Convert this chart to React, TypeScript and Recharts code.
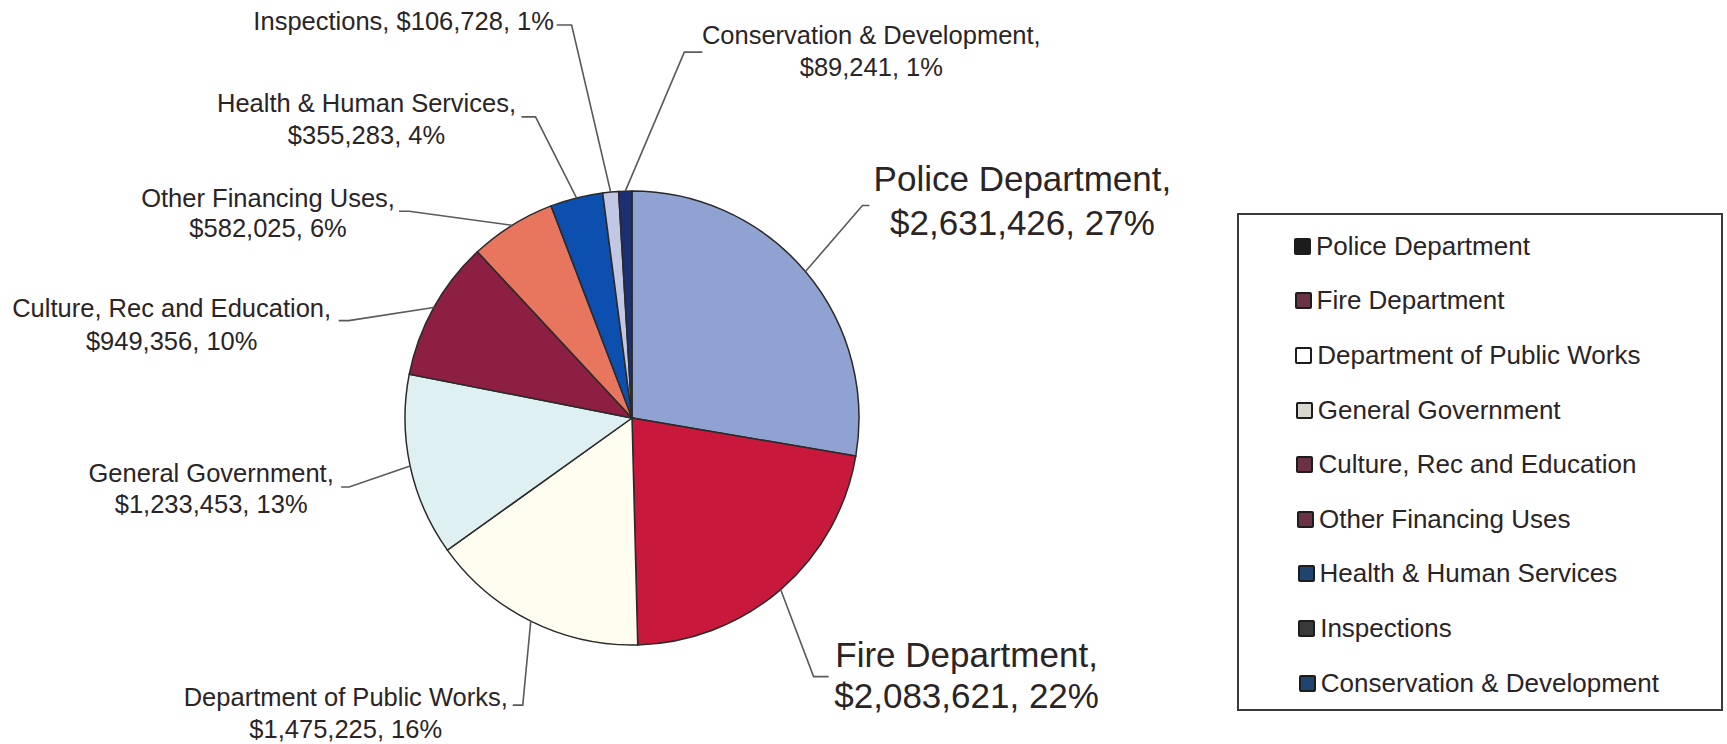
import { PieChart, Pie, Cell, Legend } from 'recharts'

const departments = [
  'Police Department',
  'Fire Department',
  'Department of Public Works',
  'General Government',
  'Culture, Rec and Education',
  'Other Financing Uses',
  'Health & Human Services',
  'Inspections',
  'Conservation & Development',
]
const budgets = [2631426, 2083621, 1475225, 1233453, 949356, 582025, 355283, 106728, 89241]
// percentages as printed on the chart
const shareLabels = [27, 22, 16, 13, 10, 6, 4, 1, 1]

const sliceColors = ['#8fa2d2', '#c8183b', '#fffdf0', '#dff0f2', '#8c1f42', '#e8765e', '#0c4fae', '#c3c7e6', '#1b2f72']
const legendColors = ['#1c1c1c', '#6b3245', '#ffffff', '#d8d8d0', '#6b3245', '#6b3245', '#1f456e', '#3a3a3a', '#1f456e']

const data = departments.map((name, i) => ({ name, value: budgets[i] }))

const FONT = '"Liberation Sans", Arial, Helvetica, sans-serif'
const INK = '#2a2426'
const RAD = Math.PI / 180

// leader elbow offset from slice edge, tick length, text centre / first baseline offset from tick end
const labelLayout = [
  { k: [57, -66], tick: 7, tx: 153, ty: -15, lh: 44, fs: 35 },
  { k: [33, 87], tick: 15, tx: 138, ty: -10, lh: 41, fs: 35 },
  { k: [-8, 84], tick: -10, tx: -167, ty: 1, lh: 32, fs: 25.5 },
  { k: [-61, 21], tick: -8, tx: -130, ty: -5, lh: 31, fs: 25.5 },
  { k: [-85, 13], tick: -10, tx: -167, ty: -4, lh: 33, fs: 25.5 },
  { k: [-103, -14], tick: -10, tx: -131, ty: -4, lh: 30, fs: 25.5 },
  { k: [-41, -81], tick: -14, tx: -155, ty: -5, lh: 32, fs: 25.5 },
  { k: [-39, -167], tick: -15, tx: -153, ty: 5, lh: 0, fs: 25.5, single: true },
  { k: [59, -139], tick: 18, tx: 169, ty: -8, lh: 32, fs: 25.5 },
]

const money = (v: number) => '$' + v.toLocaleString('en-US')

const renderLabel = (props: any) => {
  const { cx, cy, midAngle, outerRadius, index, name, value } = props
  const l = labelLayout[index]
  const ex = cx + outerRadius * Math.cos(-midAngle * RAD)
  const ey = cy + outerRadius * Math.sin(-midAngle * RAD)
  const kx = ex + l.k[0]
  const ky = ey + l.k[1]
  const txEnd = kx + l.tick
  const tail = `${money(value)}, ${shareLabels[index]}%`
  return (
    <g key={`lbl-${index}`}>
      <polyline
        points={`${ex},${ey} ${kx},${ky} ${txEnd},${ky}`}
        fill="none"
        stroke="#5a5a5a"
        strokeWidth={1.6}
      />
      <text
        x={txEnd + l.tx}
        y={ky + l.ty}
        textAnchor="middle"
        fontFamily={FONT}
        fontSize={l.fs}
        fill={INK}
      >
        {l.single ? (
          `${name}, ${tail}`
        ) : (
          <>
            <tspan x={txEnd + l.tx}>{name},</tspan>
            <tspan x={txEnd + l.tx} dy={l.lh}>{tail}</tspan>
          </>
        )}
      </text>
    </g>
  )
}

const LegendBox = ({ payload }: any) => {
  // keep the data order, as in the original legend
  const items = [...(payload || [])].sort(
    (a: any, b: any) => departments.indexOf(a.value) - departments.indexOf(b.value)
  )
  return (
    <div
      style={{
        width: 486,
        height: 498,
        boxSizing: 'border-box',
        border: '2px solid #3a3a3a',
        paddingTop: 4,
        fontFamily: FONT,
        fontSize: 26,
        color: INK,
      }}
    >
      {items.map((entry: any, i: number) => {
        const idx = departments.indexOf(entry.value)
        return (
          <div key={entry.value} style={{ height: 54.6, display: 'flex', alignItems: 'center', paddingLeft: 55 + i * 0.6 }}>
            <span
              style={{
                width: 17,
                height: 17,
                boxSizing: 'border-box',
                background: legendColors[idx],
                border: '2px solid #1c1c1c',
                borderRadius: 2,
                marginRight: 5,
                display: 'inline-block',
              }}
            />
            <span>{entry.value}</span>
          </div>
        )
      })}
    </div>
  )
}

export default function App() {
  return (
    <div style={{ width: 1727, height: 744, background: '#fff' }}>
      <style>{'body{margin:0}'}</style>
      <PieChart width={1727} height={744} margin={{ top: 0, right: 0, bottom: 0, left: 0 }}>
        <Pie
          data={data}
          dataKey="value"
          nameKey="name"
          cx={632}
          cy={418}
          outerRadius={227}
          startAngle={90}
          endAngle={-270}
          stroke="#2a2a2a"
          strokeWidth={1.5}
          label={renderLabel}
          labelLine={false}
          isAnimationActive={false}
        >
          {data.map((d, i) => (
            <Cell key={d.name} fill={sliceColors[i]} />
          ))}
        </Pie>
        <Legend
          layout="vertical"
          verticalAlign="top"
          align="right"
          itemSorter={null}
          content={<LegendBox />}
          wrapperStyle={{ left: 1237, top: 213, width: 486, height: 498 }}
        />
      </PieChart>
    </div>
  )
}
